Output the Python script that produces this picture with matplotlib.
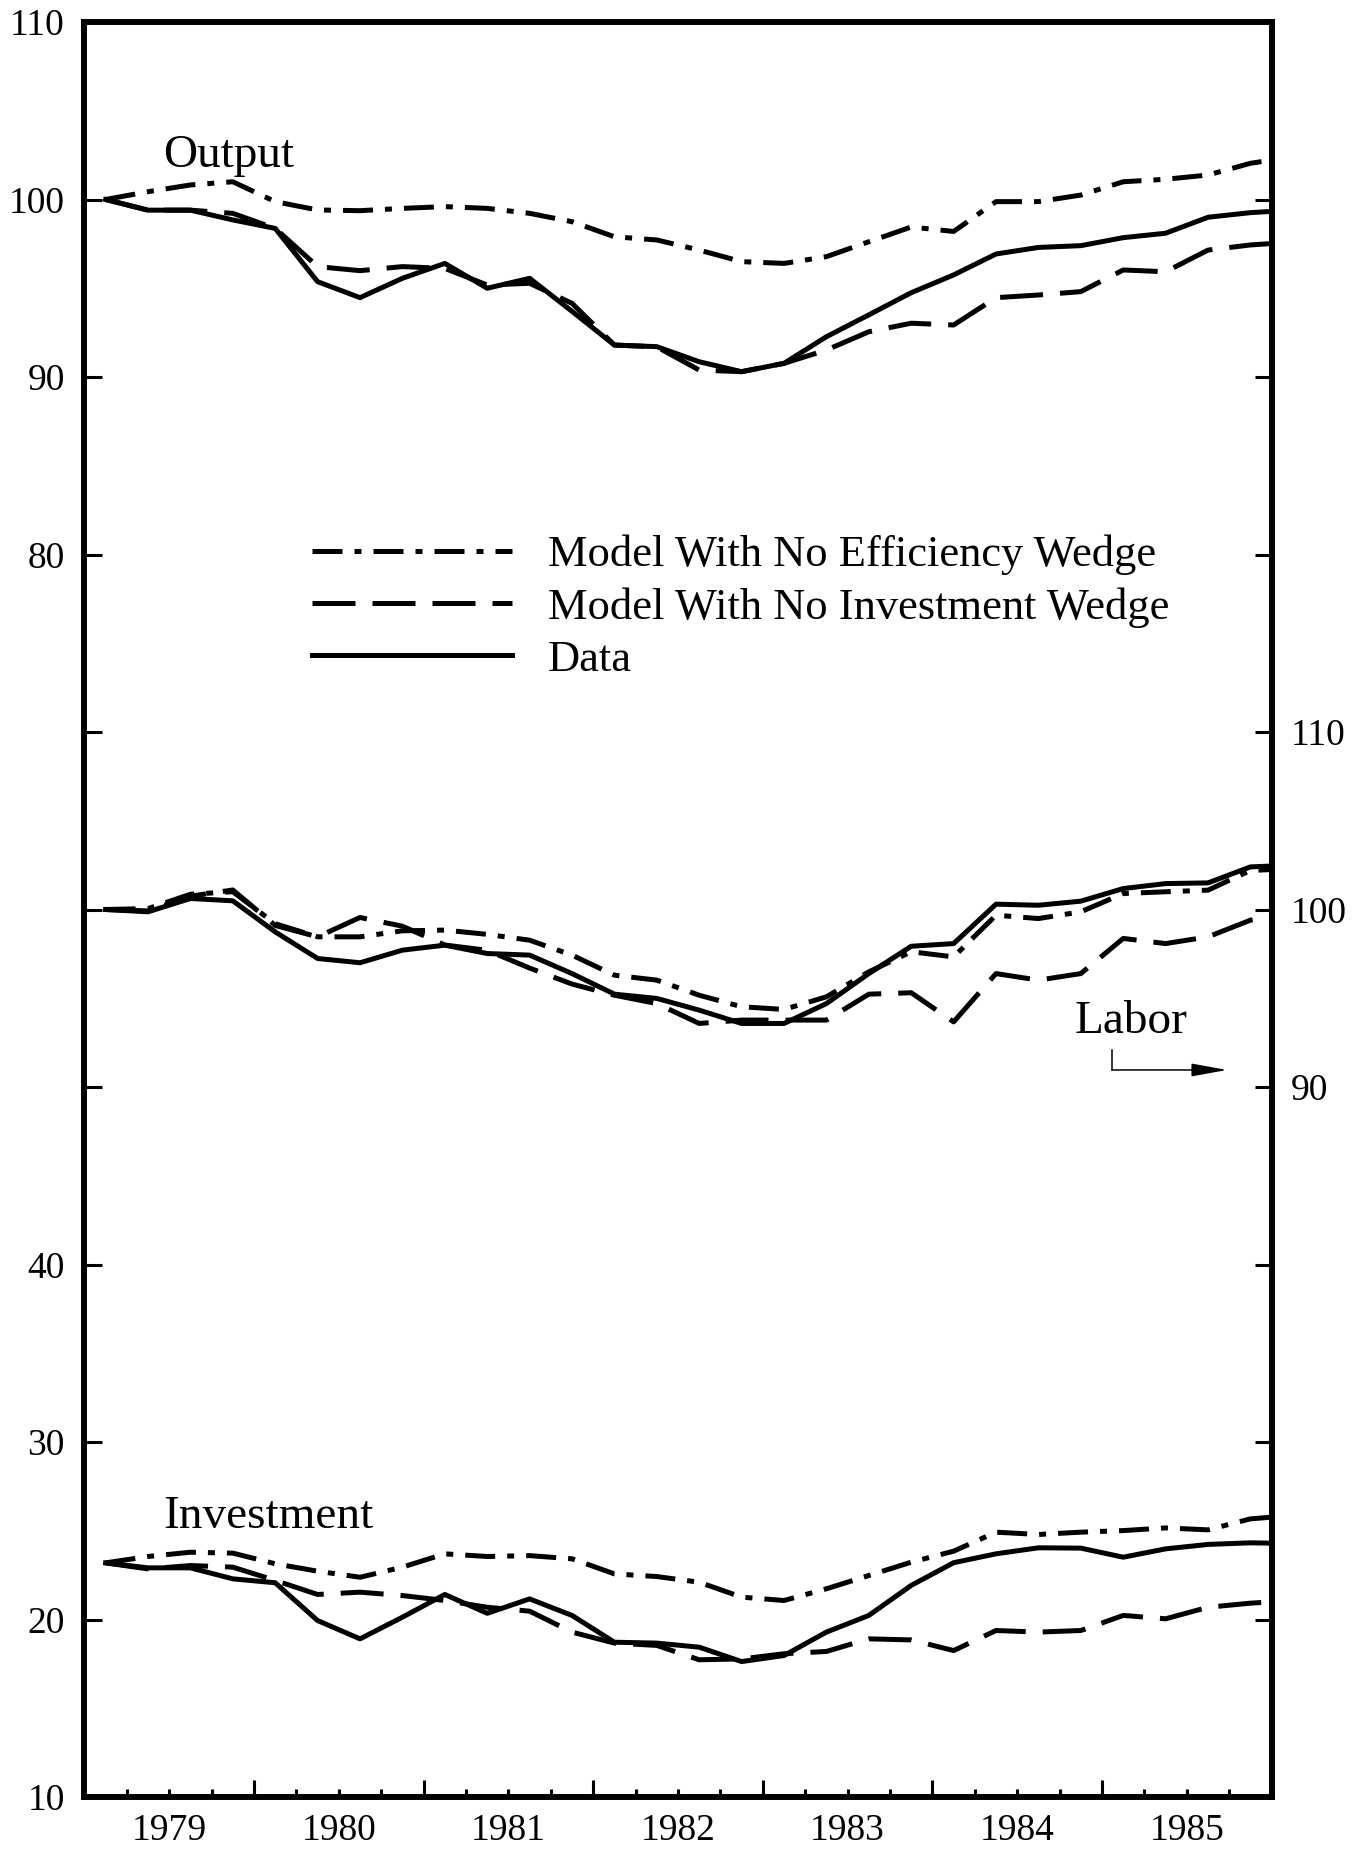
import numpy as np
import matplotlib
matplotlib.use("Agg")
import matplotlib.pyplot as plt

plt.rcParams['font.family'] = ['Liberation Serif', 'DejaVu Serif']

# quarterly data, 1979Q1 .. 1986Q1 (plotted at mid-quarter)
quarters = 1979 + (np.arange(29) + 0.5) / 4

output_data = [100.0, 99.4, 99.4, 98.85, 98.37, 95.37, 94.47, 95.56, 96.4, 95.0,
               95.56, 93.7, 91.8, 91.71, 90.86, 90.3, 90.77, 92.27, 93.5, 94.75,
               95.75, 96.93, 97.3, 97.4, 97.85, 98.1, 99.0, 99.26, 99.4]
output_noeff = [100.0, 100.44, 100.82, 101.0, 99.88, 99.41, 99.37, 99.5, 99.6, 99.5,
                99.22, 98.75, 97.9, 97.72, 97.15, 96.5, 96.4, 96.78, 97.62, 98.45,
                98.2, 99.88, 99.88, 100.25, 101.0, 101.14, 101.38, 102.04, 102.4]
output_noinv = [100.0, 99.4, 99.4, 99.22, 98.37, 96.22, 95.99, 96.22, 96.12, 95.18,
                95.28, 94.15, 91.8, 91.7, 90.39, 90.3, 90.77, 91.52, 92.55, 93.03,
                92.93, 94.47, 94.62, 94.81, 96.03, 95.93, 97.15, 97.44, 97.6]

# labor is read on the right-hand scale
labor_data = [100.0, 99.87, 100.62, 100.49, 98.74, 97.24, 97.0, 97.71, 97.99, 97.52,
              97.43, 96.39, 95.23, 94.99, 94.33, 93.58, 93.58, 94.7, 96.39, 97.93,
              98.08, 100.3, 100.24, 100.47, 101.18, 101.46, 101.5, 102.4, 102.5]
labor_noeff = [100.0, 100.05, 100.86, 101.0, 99.2, 98.46, 98.46, 98.8, 98.84, 98.6,
               98.27, 97.43, 96.3, 96.02, 95.17, 94.52, 94.37, 95.08, 96.49, 97.62,
               97.33, 99.68, 99.49, 99.87, 100.9, 101.0, 101.09, 102.2, 102.3]
labor_noinv = [100.0, 99.92, 100.75, 101.1, 99.1, 98.46, 99.55, 99.06, 98.0, 97.7,
               96.7, 95.8, 95.17, 94.7, 93.58, 93.77, 93.77, 93.77, 95.23, 95.31,
               93.67, 96.39, 96.02, 96.39, 98.37, 98.08, 98.46, 99.4, 99.8]

inv_data = [23.19, 22.91, 22.91, 22.29, 22.07, 19.94, 18.91, 20.13, 21.41, 20.35,
            21.16, 20.23, 18.72, 18.67, 18.44, 17.63, 17.97, 19.29, 20.23, 21.92,
            23.2, 23.7, 24.04, 24.02, 23.51, 23.98, 24.23, 24.32, 24.28]
inv_noeff = [23.19, 23.55, 23.79, 23.74, 23.14, 22.72, 22.38, 22.95, 23.7, 23.55,
             23.6, 23.42, 22.57, 22.42, 22.1, 21.26, 21.07, 21.73, 22.48, 23.23,
             23.85, 24.92, 24.79, 24.92, 25.01, 25.16, 25.05, 25.67, 25.86]
inv_noinv = [23.19, 22.85, 23.04, 22.95, 22.2, 21.41, 21.54, 21.35, 21.07, 20.69,
             20.47, 19.29, 18.67, 18.54, 17.73, 17.78, 18.07, 18.2, 18.91, 18.85,
             18.25, 19.38, 19.29, 19.38, 20.23, 20.04, 20.69, 20.92, 21.07]

years = list(range(1979, 1986))
left_ticks = list(range(10, 111, 10))
left_labels = ['10', '20', '30', '40', '', '', '', '80', '90', '100', '110']
right_ticks = list(range(50, 151, 10))
right_labels = ['', '', '', '', '90', '100', '110', '', '', '', '']

legend_labels = ['Model With No Efficiency Wedge', 'Model With No Investment Wedge', 'Data']

LW = 3.6
dashdot = (6, 2.4, 1.4, 2.4)
dashed = (8.6, 3.4)

fig = plt.figure(figsize=(13.64, 18.60), dpi=100)
ax = fig.add_axes([0.06188, 0.03387, 0.8704, 0.9543])
ax2 = ax.twinx()

l1, = ax.plot(quarters, output_noeff, color='black', lw=LW, dashes=dashdot)
l2, = ax.plot(quarters, output_noinv, color='black', lw=LW, dashes=dashed)
l3, = ax.plot(quarters, output_data, color='black', lw=LW)

ax.plot(quarters, inv_noeff, color='black', lw=LW, dashes=dashdot)
ax.plot(quarters, inv_noinv, color='black', lw=LW, dashes=dashed)
ax.plot(quarters, inv_data, color='black', lw=LW)

ax2.plot(quarters, labor_noeff, color='black', lw=LW, dashes=dashdot)
ax2.plot(quarters, labor_noinv, color='black', lw=LW, dashes=dashed)
ax2.plot(quarters, labor_data, color='black', lw=LW)

ax.set_xlim(1979, 1986)
ax.set_ylim(10, 110)
ax2.set_ylim(50, 150)

# year boundaries: long ticks; quarter boundaries: short ticks, year names mid-year
ax.set_xticks(years + [1986], labels=[''] * 8)
qpos = [y + q / 4 for y in years for q in (1, 2, 3)]
qlab = [lab for y in years for lab in ('', str(y), '')]
ax.set_xticks(qpos, labels=qlab, minor=True)
ax.tick_params(axis='x', which='major', direction='in', length=12.5, width=2.2, top=False)
ax.tick_params(axis='x', which='minor', direction='in', length=6, width=2.2, top=False,
               labelsize=27, pad=12)

ax.set_yticks(left_ticks, labels=left_labels)
ax.tick_params(axis='y', direction='in', length=13, width=2.2, labelsize=27, pad=14)
ax2.set_yticks(right_ticks, labels=right_labels)
ax2.tick_params(axis='y', direction='in', length=12.5, width=2.2, labelsize=27, pad=14)

for a in (ax, ax2):
    for s in a.spines.values():
        s.set_linewidth(4.1)

ax.text(1979.463, 101.83, 'Output', fontsize=34, va='baseline', ha='left')
ax.text(1979.463, 25.15, 'Investment', fontsize=34, va='baseline', ha='left')
ax.text(1984.84, 53.04, 'Labor', fontsize=34, va='baseline', ha='left')

# bent arrow pointing to the right-hand scale
ax.plot([1985.059, 1985.059], [52.08, 50.96], color='black', lw=1.1)
ax.annotate('', xy=(1985.737, 50.96), xytext=(1985.059, 50.96),
            arrowprops=dict(arrowstyle='-|>,head_length=1.1,head_width=0.2',
                            mutation_scale=20, color='black', lw=1.1,
                            shrinkA=0, shrinkB=0))

ax.legend([l1, l2, l3], legend_labels, loc='upper left',
          bbox_to_anchor=(0.1917, 0.7112), frameon=False, fontsize=32,
          handlelength=4.5, handletextpad=0.8, labelspacing=0.27,
          borderpad=0, borderaxespad=0)

fig.savefig('out.png', dpi=100)
